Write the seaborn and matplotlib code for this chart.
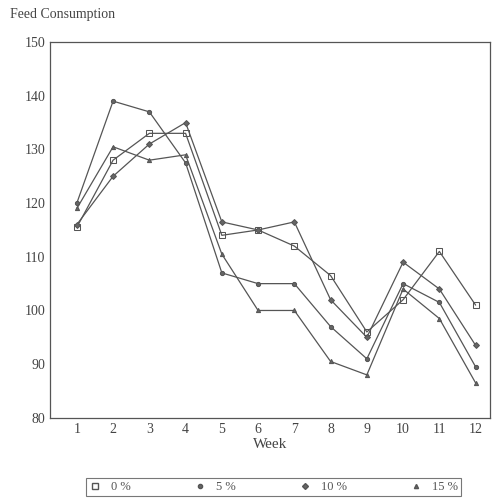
import numpy as np
import pandas as pd
import seaborn as sns
import matplotlib
matplotlib.use("Agg")
import matplotlib.pyplot as plt
from matplotlib.lines import Line2D

# data
weeks = list(range(1, 13))
labels = ["0 %", "5 %", "10 %", "15 %"]
feed_0 = [115.5, 128, 133, 133, 114, 115, 112, 106.5, 96, 102, 111, 101]
feed_5 = [120, 139, 137, 127.5, 107, 105, 105, 97, 91, 105, 101.5, 89.5]
feed_10 = [116, 125, 131, 135, 116.5, 115, 116.5, 102, 95, 109, 104, 93.5]
feed_15 = [119, 130.5, 128, 129, 110.5, 100, 100, 90.5, 88, 104, 98.5, 86.5]

df = pd.DataFrame({"Week": weeks * 4,
                   "Feed": feed_0 + feed_5 + feed_10 + feed_15,
                   "Level": sum([[l] * 12 for l in labels], [])})

sns.set_style("white")
plt.rcParams["font.family"] = ["Liberation Serif", "DejaVu Serif"]

fig = plt.figure(figsize=(5.02, 5.01), dpi=100)
ax = fig.add_axes([0.0996, 0.166, 0.876, 0.750])

markers = {"0 %": "s", "5 %": "o", "10 %": "D", "15 %": "^"}
sizes = {"0 %": 5, "5 %": 3, "10 %": 3, "15 %": 3}
for lvl in labels:
    d = df[df["Level"] == lvl]
    sns.lineplot(data=d, x="Week", y="Feed", ax=ax, color="#555555", lw=0.9,
                 marker=markers[lvl], markersize=sizes[lvl],
                 markerfacecolor="none" if lvl == "0 %" else "#666666",
                 markeredgecolor="#555555", legend=False)

ax.set_xlim(0.26, 12.39)
ax.set_ylim(80, 150)
ax.set_xticks(weeks)
ax.set_yticks(range(80, 151, 10))
ax.tick_params(direction="in", length=4, labelsize=10, colors="#444444", width=0.8)
ax.set_xlabel("Week", fontsize=11, color="#444444", labelpad=2)
ax.set_ylabel("")
for s in ax.spines.values():
    s.set_color("#555555")
    s.set_linewidth(0.9)

fig.text(0.02, 0.965, "Feed Consumption", fontsize=10, color="#444444")

handles = [Line2D([], [], ls="none", marker=markers[l], markersize=sizes[l],
                  markerfacecolor="none" if l == "0 %" else "#666666",
                  markeredgecolor="#555555") for l in labels]
leg = ax.legend(handles, labels, loc="upper center", bbox_to_anchor=(0.508, -0.16),
                ncol=4, frameon=True, fancybox=False, edgecolor="#555555",
                fontsize=9, handlelength=1.0, handletextpad=0.8,
                columnspacing=5.0, borderpad=0.25, borderaxespad=0)
for t in leg.get_texts():
    t.set_color("#555555")
leg.get_frame().set_linewidth(0.8)

plt.savefig("out.png", dpi=100)
